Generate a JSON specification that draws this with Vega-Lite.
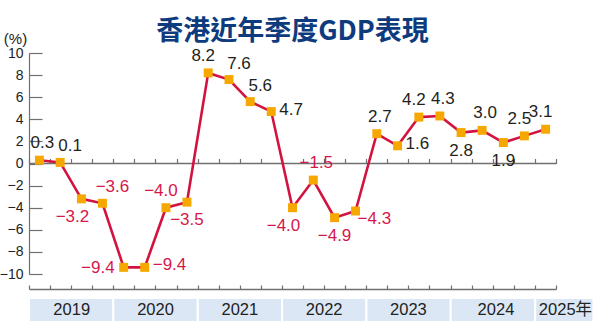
{
  "$schema": "https://vega.github.io/schema/vega-lite/v6.json",
  "width": 527,
  "height": 221,
  "autosize": {"type": "none"},
  "padding": {"left": 29, "top": 53, "right": 44, "bottom": 60},
  "background": "white",
  "title": {"text": "香港近年季度GDP表現", "font": "Noto Sans CJK TC", "fontSize": 27, "fontWeight": "bold", "color": "#0d3b7e", "anchor": "middle", "frame": "group", "offset": -15},
  "config": {"view": {"stroke": null}, "axis": {"labelOverlap": false}},
  "datasets": {
    "gdp": [
      {"date": "2019-02-15", "quarter": "2019 Q1", "growth": 0.3, "pos": "above"},
      {"date": "2019-05-16", "quarter": "2019 Q2", "growth": 0.1, "pos": "above-right"},
      {"date": "2019-08-16", "quarter": "2019 Q3", "growth": -3.2, "pos": "below-left"},
      {"date": "2019-11-15", "quarter": "2019 Q4", "growth": -3.6, "pos": "above-right"},
      {"date": "2020-02-15", "quarter": "2020 Q1", "growth": -9.4, "pos": "left"},
      {"date": "2020-05-16", "quarter": "2020 Q2", "growth": -9.4, "pos": "right"},
      {"date": "2020-08-16", "quarter": "2020 Q3", "growth": -4.0, "pos": "above-left"},
      {"date": "2020-11-15", "quarter": "2020 Q4", "growth": -3.5, "pos": "below"},
      {"date": "2021-02-15", "quarter": "2021 Q1", "growth": 8.2, "pos": "above-left"},
      {"date": "2021-05-16", "quarter": "2021 Q2", "growth": 7.6, "pos": "above-right"},
      {"date": "2021-08-16", "quarter": "2021 Q3", "growth": 5.6, "pos": "above-right"},
      {"date": "2021-11-15", "quarter": "2021 Q4", "growth": 4.7, "pos": "right"},
      {"date": "2022-02-15", "quarter": "2022 Q1", "growth": -4.0, "pos": "below-left"},
      {"date": "2022-05-16", "quarter": "2022 Q2", "growth": -1.5, "pos": "above"},
      {"date": "2022-08-16", "quarter": "2022 Q3", "growth": -4.9, "pos": "below"},
      {"date": "2022-11-15", "quarter": "2022 Q4", "growth": -4.3, "pos": "below-right"},
      {"date": "2023-02-15", "quarter": "2023 Q1", "growth": 2.7, "pos": "above"},
      {"date": "2023-05-16", "quarter": "2023 Q2", "growth": 1.6, "pos": "right"},
      {"date": "2023-08-16", "quarter": "2023 Q3", "growth": 4.2, "pos": "above-left"},
      {"date": "2023-11-15", "quarter": "2023 Q4", "growth": 4.3, "pos": "above"},
      {"date": "2024-02-15", "quarter": "2024 Q1", "growth": 2.8, "pos": "below"},
      {"date": "2024-05-16", "quarter": "2024 Q2", "growth": 3.0, "pos": "above"},
      {"date": "2024-08-16", "quarter": "2024 Q3", "growth": 1.9, "pos": "below"},
      {"date": "2024-11-15", "quarter": "2024 Q4", "growth": 2.5, "pos": "above-left"},
      {"date": "2025-02-15", "quarter": "2025 Q1", "growth": 3.1, "pos": "above-left"}
    ],
    "years": [
      {"year": "2019", "start": "2019-01-01", "end": "2020-01-01", "mid": "2019-07-05"},
      {"year": "2020", "start": "2020-01-01", "end": "2021-01-01", "mid": "2020-07-02"},
      {"year": "2021", "start": "2021-01-01", "end": "2022-01-01", "mid": "2021-07-02"},
      {"year": "2022", "start": "2022-01-01", "end": "2023-01-01", "mid": "2022-07-02"},
      {"year": "2023", "start": "2023-01-01", "end": "2024-01-01", "mid": "2023-07-02"},
      {"year": "2024", "start": "2024-01-01", "end": "2025-01-01", "mid": "2024-07-15"},
      {"year": "2025年", "start": "2025-01-01", "end": "2025-09-10", "mid": "2025-05-12"}
    ]
  },
  "layer": [
    {
      "data": {"name": "years"},
      "mark": {"type": "rect", "fill": "#dbe7f4", "stroke": "white", "strokeWidth": 2},
      "encoding": {
        "x": {"field": "start", "type": "temporal", "scale": {"type": "utc", "domain": [{"year": 2019, "month": 1, "date": 1, "utc": true}, {"year": 2025, "month": 4, "date": 1, "utc": true}], "nice": false},
          "axis": {"orient": "top", "offset": -236, "labels": false, "title": null, "grid": false, "tickCount": 25, "tickSize": 131, "tickDash": [4, 121.5, 5, 300], "tickWidth": 1.2, "tickColor": "#707070", "domainColor": "#707070", "domainWidth": 1.5}},
        "x2": {"field": "end"},
        "y": {"datum": -12.17, "type": "quantitative", "scale": {"domain": [-10, 10], "nice": false, "zero": false},
          "axis": {"orient": "left", "values": [-10, -8, -6, -4, -2, 0, 2, 4, 6, 8, 10], "format": "d", "grid": false,
            "title": "(%)", "titleAngle": 0, "titleX": -14, "titleY": -15, "titleAlign": "center", "titleBaseline": "middle",
            "titleFont": "Liberation Sans, Arial, sans-serif", "titleFontSize": 15, "titleFontWeight": "normal", "titleColor": "#222222",
            "labelFont": "Liberation Sans, Arial, sans-serif", "labelFontSize": 14, "labelColor": "#222222", "labelFlush": false, "labelOverlap": false,
            "tickSize": -13, "labelPadding": 19, "tickWidth": 1.2, "tickColor": "#707070", "domainColor": "#707070", "domainWidth": 1.2}},
        "y2": {"datum": -14.34}
      }
    },
    {
      "data": {"name": "years"},
      "mark": {"type": "text", "font": "Liberation Sans, Arial, Noto Sans CJK TC, sans-serif", "fontSize": 16.5, "color": "#222222", "align": "center", "baseline": "middle"},
      "encoding": {
        "x": {"field": "mid", "type": "temporal", "scale": {"type": "utc", "domain": [{"year": 2019, "month": 1, "date": 1, "utc": true}, {"year": 2025, "month": 4, "date": 1, "utc": true}], "nice": false},
          "axis": {"orient": "top", "offset": -236, "labels": false, "title": null, "grid": false, "tickCount": 25, "tickSize": 131, "tickDash": [4, 121.5, 5, 300], "tickWidth": 1.2, "tickColor": "#707070", "domainColor": "#707070", "domainWidth": 1.5}},
        "y": {"datum": -13.26, "type": "quantitative", "scale": {"domain": [-10, 10], "nice": false, "zero": false},
          "axis": {"orient": "left", "values": [-10, -8, -6, -4, -2, 0, 2, 4, 6, 8, 10], "format": "d", "grid": false,
            "title": "(%)", "titleAngle": 0, "titleX": -14, "titleY": -15, "titleAlign": "center", "titleBaseline": "middle",
            "titleFont": "Liberation Sans, Arial, sans-serif", "titleFontSize": 15, "titleFontWeight": "normal", "titleColor": "#222222",
            "labelFont": "Liberation Sans, Arial, sans-serif", "labelFontSize": 14, "labelColor": "#222222", "labelFlush": false, "labelOverlap": false,
            "tickSize": -13, "labelPadding": 19, "tickWidth": 1.2, "tickColor": "#707070", "domainColor": "#707070", "domainWidth": 1.2}},
        "text": {"field": "year"}
      }
    },
    {
      "data": {"values": [{}]},
      "mark": {"type": "rule", "color": "#707070", "strokeWidth": 1.5},
      "encoding": {
        "y": {"datum": 0, "type": "quantitative", "scale": {"domain": [-10, 10], "nice": false, "zero": false},
          "axis": {"orient": "left", "values": [-10, -8, -6, -4, -2, 0, 2, 4, 6, 8, 10], "format": "d", "grid": false,
            "title": "(%)", "titleAngle": 0, "titleX": -14, "titleY": -15, "titleAlign": "center", "titleBaseline": "middle",
            "titleFont": "Liberation Sans, Arial, sans-serif", "titleFontSize": 15, "titleFontWeight": "normal", "titleColor": "#222222",
            "labelFont": "Liberation Sans, Arial, sans-serif", "labelFontSize": 14, "labelColor": "#222222", "labelFlush": false, "labelOverlap": false,
            "tickSize": -13, "labelPadding": 19, "tickWidth": 1.2, "tickColor": "#707070", "domainColor": "#707070", "domainWidth": 1.2}}
      }
    },
    {
      "data": {"name": "gdp"},
      "encoding": {
        "x": {"field": "date", "type": "temporal", "scale": {"type": "utc", "domain": [{"year": 2019, "month": 1, "date": 1, "utc": true}, {"year": 2025, "month": 4, "date": 1, "utc": true}], "nice": false},
          "axis": {"orient": "top", "offset": -236, "labels": false, "title": null, "grid": false, "tickCount": 25, "tickSize": 131, "tickDash": [4, 121.5, 5, 300], "tickWidth": 1.2, "tickColor": "#707070", "domainColor": "#707070", "domainWidth": 1.5}},
        "y": {"field": "growth", "type": "quantitative", "scale": {"domain": [-10, 10], "nice": false, "zero": false},
          "axis": {"orient": "left", "values": [-10, -8, -6, -4, -2, 0, 2, 4, 6, 8, 10], "format": "d", "grid": false,
            "title": "(%)", "titleAngle": 0, "titleX": -14, "titleY": -15, "titleAlign": "center", "titleBaseline": "middle",
            "titleFont": "Liberation Sans, Arial, sans-serif", "titleFontSize": 15, "titleFontWeight": "normal", "titleColor": "#222222",
            "labelFont": "Liberation Sans, Arial, sans-serif", "labelFontSize": 14, "labelColor": "#222222", "labelFlush": false, "labelOverlap": false,
            "tickSize": -13, "labelPadding": 19, "tickWidth": 1.2, "tickColor": "#707070", "domainColor": "#707070", "domainWidth": 1.2}}
      },
      "layer": [
        {"mark": {"type": "line", "color": "#d3133f", "strokeWidth": 2.6}},
        {"mark": {"type": "square", "size": 80, "color": "#f6a800", "opacity": 1}},
        {
          "transform": [{"filter": "datum.pos === 'above'"}],
          "mark": {"type": "text", "font": "Liberation Sans, Arial, sans-serif", "fontSize": 17, "align": "center", "baseline": "middle", "dx": 3, "dy": -17},
          "encoding": {
            "text": {"field": "growth", "type": "quantitative", "format": ".1f"},
            "color": {"condition": {"test": "datum.growth < 0", "value": "#d6174b"}, "value": "#231f20"}
          }
        },
        {
          "transform": [{"filter": "datum.pos === 'above-left'"}],
          "mark": {"type": "text", "font": "Liberation Sans, Arial, sans-serif", "fontSize": 17, "align": "center", "baseline": "middle", "dx": -5, "dy": -17},
          "encoding": {
            "text": {"field": "growth", "type": "quantitative", "format": ".1f"},
            "color": {"condition": {"test": "datum.growth < 0", "value": "#d6174b"}, "value": "#231f20"}
          }
        },
        {
          "transform": [{"filter": "datum.pos === 'above-right'"}],
          "mark": {"type": "text", "font": "Liberation Sans, Arial, sans-serif", "fontSize": 17, "align": "center", "baseline": "middle", "dx": 10, "dy": -16},
          "encoding": {
            "text": {"field": "growth", "type": "quantitative", "format": ".1f"},
            "color": {"condition": {"test": "datum.growth < 0", "value": "#d6174b"}, "value": "#231f20"}
          }
        },
        {
          "transform": [{"filter": "datum.pos === 'below'"}],
          "mark": {"type": "text", "font": "Liberation Sans, Arial, sans-serif", "fontSize": 17, "align": "center", "baseline": "middle", "dx": 0, "dy": 18},
          "encoding": {
            "text": {"field": "growth", "type": "quantitative", "format": ".1f"},
            "color": {"condition": {"test": "datum.growth < 0", "value": "#d6174b"}, "value": "#231f20"}
          }
        },
        {
          "transform": [{"filter": "datum.pos === 'below-left'"}],
          "mark": {"type": "text", "font": "Liberation Sans, Arial, sans-serif", "fontSize": 17, "align": "center", "baseline": "middle", "dx": -9, "dy": 18},
          "encoding": {
            "text": {"field": "growth", "type": "quantitative", "format": ".1f"},
            "color": {"condition": {"test": "datum.growth < 0", "value": "#d6174b"}, "value": "#231f20"}
          }
        },
        {
          "transform": [{"filter": "datum.pos === 'left'"}],
          "mark": {"type": "text", "font": "Liberation Sans, Arial, sans-serif", "fontSize": 17, "align": "right", "baseline": "middle", "dx": -9, "dy": 1},
          "encoding": {
            "text": {"field": "growth", "type": "quantitative", "format": ".1f"},
            "color": {"condition": {"test": "datum.growth < 0", "value": "#d6174b"}, "value": "#231f20"}
          }
        },
        {
          "transform": [{"filter": "datum.pos === 'right'"}],
          "mark": {"type": "text", "font": "Liberation Sans, Arial, sans-serif", "fontSize": 17, "align": "left", "baseline": "middle", "dx": 8, "dy": -2},
          "encoding": {
            "text": {"field": "growth", "type": "quantitative", "format": ".1f"},
            "color": {"condition": {"test": "datum.growth < 0", "value": "#d6174b"}, "value": "#231f20"}
          }
        },
        {
          "transform": [{"filter": "datum.pos === 'below-right'"}],
          "mark": {"type": "text", "font": "Liberation Sans, Arial, sans-serif", "fontSize": 17, "align": "left", "baseline": "middle", "dx": 2, "dy": 8},
          "encoding": {
            "text": {"field": "growth", "type": "quantitative", "format": ".1f"},
            "color": {"condition": {"test": "datum.growth < 0", "value": "#d6174b"}, "value": "#231f20"}
          }
        }
      ]
    }
  ]
}
